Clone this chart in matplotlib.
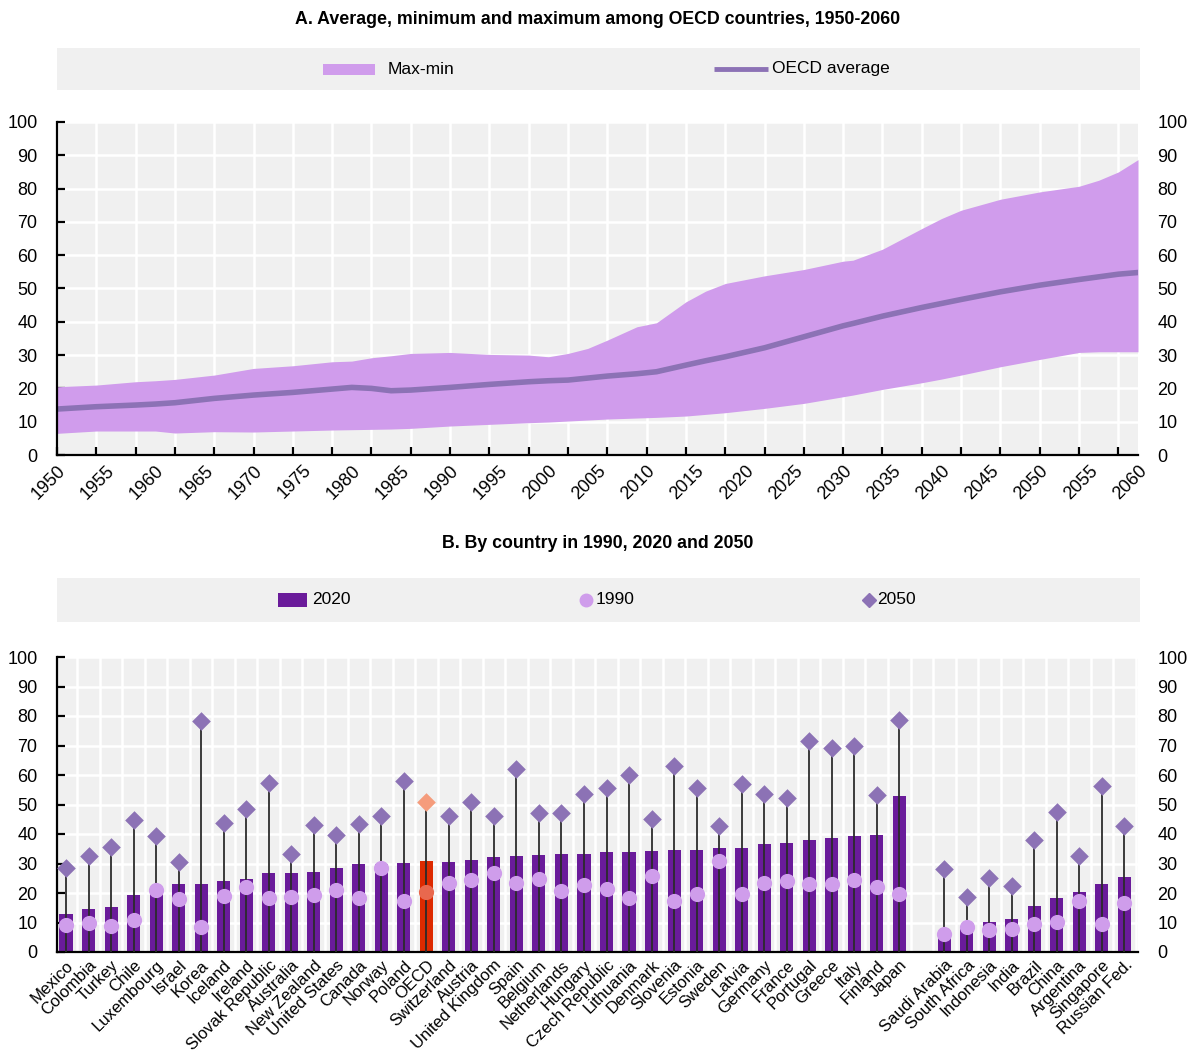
import numpy as np
import matplotlib
matplotlib.use("Agg")
import matplotlib.pyplot as plt
import matplotlib.font_manager as fm
from matplotlib.patches import Rectangle

# Panel A: old-age dependency, OECD average and max-min band
years = [1950, 1954, 1958, 1960, 1962, 1966, 1970, 1974, 1978, 1980, 1982, 1984,
         1986, 1990, 1994, 1998, 2000, 2002, 2004, 2006, 2009, 2011, 2014, 2016,
         2018, 2022, 2026, 2030, 2031, 2034, 2038, 2040, 2042, 2046, 2050, 2054,
         2056, 2058, 2060]
oecd_max = [20.5, 21.0, 22.0, 22.3, 22.7, 24.0, 26.0, 26.8, 28.0, 28.2, 29.2, 29.8,
            30.5, 30.8, 30.2, 30.0, 29.5, 30.5, 32.0, 34.5, 38.5, 39.7, 46.0, 49.2,
            51.5, 53.8, 55.7, 58.2, 58.5, 61.8, 68.0, 71.0, 73.5, 76.8, 79.0, 80.7,
            82.5, 85.0, 88.7]
oecd_min = [6.5, 7.2, 7.2, 7.2, 6.6, 7.0, 6.9, 7.2, 7.5, 7.6, 7.7, 7.8,
            8.0, 8.7, 9.2, 9.7, 9.9, 10.2, 10.5, 10.8, 11.1, 11.3, 11.7, 12.2,
            12.7, 14.0, 15.5, 17.5, 18.0, 19.7, 21.7, 22.8, 24.0, 26.5, 28.7, 30.8,
            31.0, 31.0, 31.0]
oecd_avg = [13.8, 14.5, 15.0, 15.3, 15.7, 17.0, 18.0, 18.8, 19.8, 20.3, 20.0, 19.3,
            19.5, 20.3, 21.2, 22.0, 22.3, 22.5, 23.1, 23.7, 24.4, 25.0, 27.0, 28.3,
            29.5, 32.2, 35.5, 38.8, 39.5, 41.7, 44.3, 45.5, 46.7, 49.0, 51.0, 52.7,
            53.5, 54.3, 54.8]

# Panel B: by country
oecd_countries = ["Mexico", "Colombia", "Turkey", "Chile", "Luxembourg", "Israel", "Korea",
                  "Iceland", "Ireland", "Slovak Republic", "Australia", "New Zealand",
                  "United States", "Canada", "Norway", "Poland", "OECD", "Switzerland",
                  "Austria", "United Kingdom", "Spain", "Belgium", "Netherlands", "Hungary",
                  "Czech Republic", "Lithuania", "Denmark", "Slovenia", "Estonia", "Sweden",
                  "Latvia", "Germany", "France", "Portugal", "Greece", "Italy", "Finland", "Japan"]
oecd_2020 = [13.0, 14.6, 15.4, 19.3, 22.0, 23.1, 23.2, 24.0, 24.6, 26.7, 26.8, 27.2, 28.6,
             29.7, 29.9, 30.1, 30.7, 30.6, 31.1, 32.1, 32.4, 33.0, 33.2, 33.3, 33.9, 33.9,
             34.4, 34.5, 34.5, 35.1, 35.4, 36.6, 36.9, 37.9, 38.5, 39.4, 39.8, 52.8]
oecd_1990 = [9.3, 9.8, 8.7, 11.0, 21.0, 18.1, 8.6, 18.9, 21.9, 18.2, 18.8, 19.3, 21.1,
             18.3, 28.4, 17.4, 20.2, 23.4, 24.4, 26.8, 23.4, 24.6, 20.8, 22.6, 21.5, 18.4,
             25.9, 17.4, 19.5, 30.7, 19.7, 23.5, 24.0, 23.2, 23.1, 24.4, 21.9, 19.5]
oecd_2050 = [28.4, 32.7, 35.7, 44.9, 39.3, 30.4, 78.2, 43.8, 48.4, 57.2, 33.1, 43.2, 39.5,
             43.4, 46.1, 58.1, 51.0, 46.2, 50.7, 46.1, 62.1, 47.0, 47.1, 53.6, 55.5, 60.1,
             45.2, 62.9, 55.5, 42.7, 56.9, 53.4, 52.1, 71.6, 69.3, 69.8, 53.2, 78.6]

partner_countries = ["Saudi Arabia", "South Africa", "Indonesia", "India", "Brazil", "China",
                     "Argentina", "Singapore", "Russian Fed."]
partner_2020 = [5.5, 8.8, 10.2, 11.1, 15.7, 18.4, 20.2, 23.2, 25.4]
partner_1990 = [6.1, 8.5, 7.6, 7.8, 9.5, 10.1, 17.2, 9.5, 16.6]
partner_2050 = [28.0, 18.8, 25.2, 22.4, 38.1, 47.3, 32.4, 56.3, 42.7]

# colours
BG = "#f0f0f0"
BAND = "#d09cec"
AVG = "#8c72b5"
BAR = "#6a1b9a"
BAR_OECD = "#dd2a00"
DOT = "#cf9deb"
DOT_OECD = "#e8684e"
DIAM = "#8c72b5"
DIAM_OECD = "#f59c7c"

fonts = {f.name for f in fm.fontManager.ttflist}
narrow = "Liberation Sans Narrow" if "Liberation Sans Narrow" in fonts else "Liberation Sans"
plt.rcParams["font.family"] = [narrow, "DejaVu Sans"]

TICK_FS = 13
W, H = 1188, 1052
fig = plt.figure(figsize=(W / 100, H / 100), dpi=100)


def box(x0, y0, x1, y1):
    # pixel box (top-left origin) -> figure rect
    return [x0 / W, 1 - y1 / H, (x1 - x0) / W, (y1 - y0) / H]


def style_axes(ax):
    ax.set_facecolor(BG)
    for s in ["top", "right"]:
        ax.spines[s].set_visible(False)
    for s in ["left", "bottom"]:
        ax.spines[s].set_linewidth(1.6)
        ax.spines[s].set_color("black")
    ax.set_axisbelow(True)
    ax.set_ylim(0, 100)
    ax.set_yticks(np.arange(0, 101, 10))
    ax.tick_params(axis="y", direction="in", length=6, width=1.6, labelsize=TICK_FS,
                   right=False, labelright=True, pad=14)
    ax.grid(True, axis="y", color="white", lw=1.8)


def legend_box(rect):
    lg = fig.add_axes(box(*rect))
    lg.set_facecolor(BG)
    for s in lg.spines.values():
        s.set_visible(False)
    lg.set_xticks([])
    lg.set_yticks([])
    lg.set_xlim(rect[0], rect[2])
    lg.set_ylim(rect[3], rect[1])
    return lg


# ---------------- Panel A ----------------
fig.text(598 / W, 1 - 19 / H, "A. Average, minimum and maximum among OECD countries, 1950-2060",
         ha="center", va="center", fontsize=12.8, fontweight="bold")

lgA = legend_box((57, 48, 1140, 90))
lgA.add_patch(Rectangle((323, 64), 52, 11, color=BAND, lw=0))
lgA.text(388, 69, "Max-min", va="center", fontsize=12.5)
lgA.plot([714, 768], [69, 69], color=AVG, lw=3.5, solid_capstyle="butt")
lgA.text(772, 69, "OECD average", va="center", fontsize=12.5)

axA = fig.add_axes(box(57, 122, 1138, 455))
style_axes(axA)
axA.fill_between(years, oecd_min, oecd_max, color=BAND, lw=0)
axA.plot(years, oecd_avg, color=AVG, lw=4)
axA.set_xlim(1950, 2060)
# labels every 5 years, tick marks and grid every 4 years
axA.xaxis.remove_overlapping_locs = False
axA.set_xticks(np.arange(1950, 2061, 5))
axA.set_xticklabels([str(y) for y in range(1950, 2061, 5)],
                    rotation=45, ha="right", rotation_mode="anchor")
axA.set_xticks(np.arange(1950, 2061, 4), minor=True)
axA.tick_params(axis="x", which="major", length=0, labelsize=TICK_FS, pad=5)
axA.tick_params(axis="x", which="minor", direction="in", length=6, width=1.6)
axA.grid(True, axis="x", which="minor", color="white", lw=1.8)

# ---------------- Panel B ----------------
fig.text(598 / W, 1 - 543 / H, "B. By country in 1990, 2020 and 2050",
         ha="center", va="center", fontsize=12.8, fontweight="bold")

lgB = legend_box((57, 578, 1140, 622))
lgB.add_patch(Rectangle((278, 593), 29, 14, color=BAR, lw=0))
lgB.text(312, 600, "2020", va="center", fontsize=12.5)
lgB.plot([586], [600], "o", color=DOT, ms=9)
lgB.text(596, 600, "1990", va="center", fontsize=12.5)
lgB.plot([869], [600], "D", color=DIAM, ms=7)
lgB.text(877, 600, "2050", va="center", fontsize=12.5)

labels = oecd_countries + [""] + partner_countries
n_oecd = len(oecd_countries)
x_oecd = np.arange(n_oecd)
x_part = np.arange(len(partner_countries)) + n_oecd + 1
xs = np.concatenate([x_oecd, x_part])
v2020 = oecd_2020 + partner_2020
v1990 = oecd_1990 + partner_1990
v2050 = oecd_2050 + partner_2050
names = oecd_countries + partner_countries
is_oecd = np.array([n == "OECD" for n in names])

axB = fig.add_axes(box(57, 657, 1138, 952))
style_axes(axB)
axB.bar(xs, v2020, width=0.58, color=[BAR_OECD if o else BAR for o in is_oecd], zorder=2)
axB.vlines(xs, 0, v2050, color="#2b2b2b", lw=1.3, zorder=3)
axB.scatter(xs[~is_oecd], np.array(v1990)[~is_oecd], s=120, color=DOT, lw=0, zorder=4)
axB.scatter(xs[is_oecd], np.array(v1990)[is_oecd], s=120, color=DOT_OECD, lw=0, zorder=4)
axB.scatter(xs[~is_oecd], np.array(v2050)[~is_oecd], s=90, marker="D", color=DIAM, lw=0, zorder=5)
axB.scatter(xs[is_oecd], np.array(v2050)[is_oecd], s=90, marker="D", color=DIAM_OECD, lw=0, zorder=5)

axB.set_xlim(-0.4, len(labels) - 0.4)
axB.set_xticks(np.arange(len(labels)))
axB.set_xticklabels(labels, rotation=45, ha="right", rotation_mode="anchor", fontsize=12)
axB.set_xticks(np.arange(len(labels)) + 0.5, minor=True)
axB.tick_params(axis="x", which="both", length=0, pad=4)
axB.grid(True, axis="x", which="minor", color="white", lw=1.8)

fig.savefig("out.png", dpi=100)
